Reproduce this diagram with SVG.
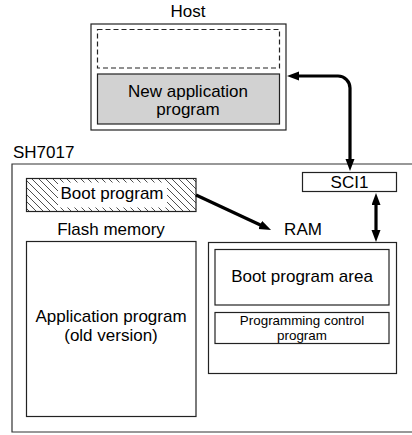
<svg xmlns="http://www.w3.org/2000/svg" width="412" height="435" viewBox="0 0 412 435">
<style>
  text { font-family: "Liberation Sans", Arial, sans-serif; font-size: 17px; fill: #000; }
  .c { text-anchor: middle; }
  .sm { font-size: 13.4px; }
  .box { fill: #fff; stroke: #222; stroke-width: 1.2; }
  .conn { fill: none; stroke: #000; stroke-width: 3.2; }
</style>
<defs>
  <pattern id="hatch" patternUnits="userSpaceOnUse" width="7" height="7">
    <path d="M0,0 L7,7 M-1,6 L1,8 M6,-1 L8,1" stroke="#222" stroke-width="0.8"/>
  </pattern>
  <marker id="ah" markerUnits="userSpaceOnUse" markerWidth="13" markerHeight="10" refX="2" refY="4.5" orient="auto-start-reverse">
    <path d="M0,0 L12,4.5 L0,9 z" fill="#000"/>
  </marker>
</defs>

<g id="host">
  <text class="c" x="188" y="17">Host</text>
  <rect class="box" x="91" y="24" width="195" height="106"/>
  <rect x="97.5" y="29.5" width="182" height="38.5" fill="none" stroke="#222" stroke-width="1.2" stroke-dasharray="5,3"/>
  <rect x="97.5" y="74" width="182" height="50" fill="#d2d2d2" stroke="#222" stroke-width="1.2"/>
  <text class="c" x="188" y="96.5">New application</text>
  <text class="c" x="188" y="114.5">program</text>
</g>

<g id="sh7017">
  <text x="13" y="158">SH7017</text>
  <path d="M416,164 H12 V432 H416" fill="#fff" stroke="#333" stroke-width="1.2"/>
</g>

<g id="sci1">
  <rect class="box" x="302.5" y="172.5" width="94" height="19"/>
  <text class="c" x="349.5" y="188">SCI1</text>
</g>

<g id="boot-program">
  <rect x="26.5" y="178.5" width="169.5" height="33" fill="url(#hatch)" stroke="#222" stroke-width="1.2"/>
  <rect x="58" y="182.5" width="109" height="25" fill="#fff"/>
  <text class="c" x="112" y="199">Boot program</text>
</g>

<g id="flash-memory">
  <text class="c" x="111" y="235">Flash memory</text>
  <rect class="box" x="26.5" y="241.5" width="169.5" height="175"/>
  <text class="c" x="111" y="322">Application program</text>
  <text class="c" x="111" y="340.5">(old version)</text>
</g>

<g id="ram">
  <text class="c" x="303" y="235">RAM</text>
  <rect class="box" x="208.5" y="242.5" width="188" height="131"/>
</g>

<g id="boot-program-area">
  <rect class="box" x="215" y="249.5" width="174" height="55.5"/>
  <text class="c" x="302" y="282">Boot program area</text>
</g>

<g id="programming-control">
  <rect class="box" x="215" y="312.5" width="174" height="31"/>
  <text class="c sm" x="302" y="324.5">Programming control</text>
  <text class="c sm" x="302" y="339.5">program</text>
</g>

<g id="connectors">
  <path class="conn" d="M297,76 H338 A12,12 0 0 1 350,88 V161" marker-start="url(#ah)" marker-end="url(#ah)"/>
  <path class="conn" d="M376,203 V232" marker-start="url(#ah)" marker-end="url(#ah)"/>
  <path class="conn" d="M196,195 L262,225.8" marker-end="url(#ah)"/>
</g>
</svg>
